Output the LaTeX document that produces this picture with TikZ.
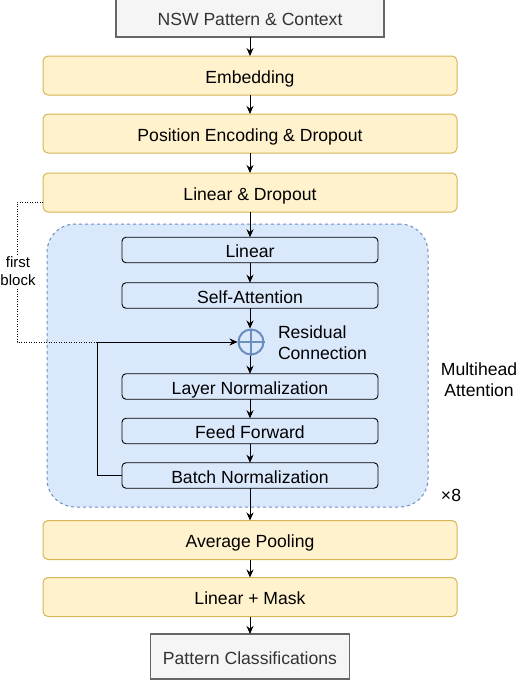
\documentclass[tikz,border=0pt]{standalone}
\usepackage{fontspec}
\setmainfont{Liberation Sans}
\usetikzlibrary{arrows.meta}
\definecolor{yfill}{HTML}{FFF2CC}
\definecolor{ydraw}{HTML}{D6B656}
\definecolor{bfill}{HTML}{DAE8FC}
\definecolor{bdraw}{HTML}{6C8EBF}
\definecolor{gfill}{HTML}{F5F5F5}
\definecolor{gdraw}{HTML}{666666}
\definecolor{gtext}{HTML}{333333}
\begin{document}
\begin{tikzpicture}[x=1pt,y=-1pt,
  font=\fontsize{17.6}{21}\selectfont,
  oneline/.style={text height=15.6pt, text depth=0pt},
  ybox/.style={oneline, draw=ydraw, fill=yfill, line width=1pt, rounded corners=5pt, minimum width=414pt, minimum height=39pt, inner sep=0pt, outer sep=0pt},
  ibox/.style={oneline, draw=black, line width=0.9pt, rounded corners=4pt, minimum width=256pt, minimum height=25.5pt, inner sep=0pt, outer sep=0pt},
  gbox/.style={draw=gdraw, fill=gfill, text=gtext, line width=1.2pt, inner sep=0pt, outer sep=0pt},
  arr/.style={-{Stealth[length=8pt,width=7pt]}, line width=0.9pt},
  dots/.style={line width=0.9pt, dash pattern=on 1pt off 1.5pt},
  lbl/.style={inner sep=0pt, outer sep=0pt},
]
\useasboundingbox (0,0) rectangle (518,680);
% blue multihead region
\node[draw=bdraw, fill=bfill, dashed, line width=1pt, rounded corners=28pt, minimum width=381pt, minimum height=283pt, inner sep=0pt] (mha) at (237.5,365.5) {};
% input / output boxes
\node[gbox, minimum width=268pt, minimum height=43pt] (in) at (250,15.5) {};
\node[lbl, oneline, text=gtext] (intext) at (250,18) {NSW Pattern \& Context};
\node[gbox, oneline, minimum width=199pt, minimum height=45pt] (out) at (250,656.5) {Pattern Classifications};
% yellow boxes
\node[ybox] (emb) at (250,75.5) {Embedding};
\node[ybox] (pe) at (250,133.5) {Position Encoding \& Dropout};
\node[ybox] (ld) at (250,192.5) {Linear \& Dropout};
\node[ybox] (ap) at (250,540) {Average Pooling};
\node[ybox] (lm) at (250,597) {Linear + Mask};
% inner boxes
\node[ibox] (lin) at (250,250) {Linear};
\node[ibox] (sa) at (250,295.5) {Self-Attention};
\node[circle, draw=bdraw, fill=bfill, line width=2pt, minimum size=25pt, inner sep=0pt] (plus) at (251,342) {};
\draw[bdraw, line width=2pt] (plus.north) -- (plus.south) (plus.west) -- (plus.east);
\node[ibox] (ln) at (250,386.5) {Layer Normalization};
\node[ibox] (ff) at (250,431) {Feed Forward};
\node[ibox] (bn) at (250,475.5) {Batch Normalization};
% labels
\node[lbl, anchor=west, align=left] (res) at (278,343) {Residual\\Connection};
\node[lbl, align=center] (mhl) at (479,380) {Multihead\\Attention};
\node[lbl] (x8) at (451,495) {×8};
% arrows
\draw[arr] (in.south) -- (emb.north);
\draw[arr] (emb.south) -- (pe.north);
\draw[arr] (pe.south) -- (ld.north);
\draw[arr] (ld.south) -- (lin.north);
\draw[arr] (lin.south) -- (sa.north);
\draw[arr] (sa.south) -- (sa.south |- plus.north);
\draw[arr] (plus.south -| ln.north) -- (ln.north);
\draw[arr] (ln.south) -- (ff.north);
\draw[arr] (ff.south) -- (bn.north);
\draw[arr] (bn.south) -- (ap.north);
\draw[arr] (ap.south) -- (lm.north);
\draw[arr] (lm.south) -- (out.north);
% residual feedback
\coordinate (fbc) at (97,342);
\coordinate (dl) at (17,342);
\draw[dots] ([yshift=-9.5pt]ld.west) -| (dl) -- (fbc);
\draw[arr] (bn.west) -| (fbc) -- (plus.west);
\node[lbl, fill=white, align=center, font=\fontsize{15}{18}\selectfont, inner sep=1pt] (fb) at (18,271) {first\\block};
\end{tikzpicture}
\end{document}
